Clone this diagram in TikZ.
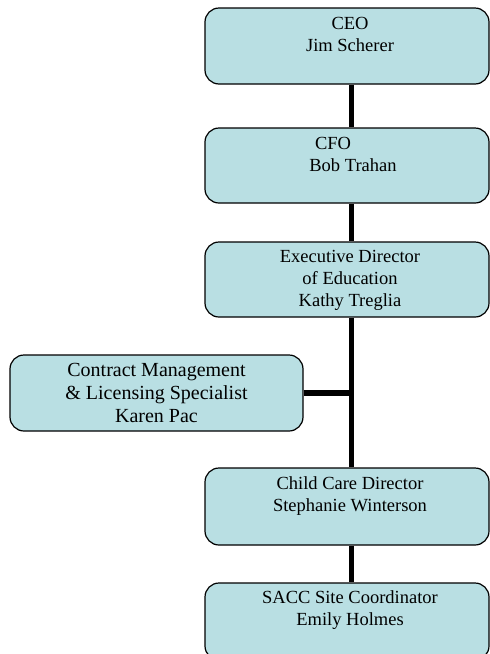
\documentclass[tikz,border=0pt]{standalone}
\usepackage{fontspec}
\setmainfont{Liberation Serif}
\definecolor{boxfill}{RGB}{185,223,227}
\begin{document}
\begin{tikzpicture}[x=1pt,y=-1pt,
  orgbox/.style={draw=black, line width=1.2pt, fill=boxfill, rounded corners=14pt, rectangle, inner sep=0pt, minimum width=284pt},
  txt/.style={anchor=north, inner sep=0pt, align=center, font=\fontsize{18.5}{22}\selectfont},
  conn/.style={line width=5.5pt}]
\useasboundingbox (0,0) rectangle (490,654);
\clip (0,0) rectangle (490,654);
\coordinate (sp) at (351.5,0);
% boxes
\node[orgbox, minimum height=76pt] (ceo) at (347,46) {};
\node[orgbox, minimum height=75pt] (cfo) at (347,165.5) {};
\node[orgbox, minimum height=75pt] (exec) at (347,279.5) {};
\node[orgbox, minimum width=293pt, minimum height=76pt] (contract) at (156.5,393) {};
\node[orgbox, minimum height=77pt] (child) at (347,506.5) {};
\node[orgbox, minimum height=77pt] (sacc) at (347,621.5) {};
% connectors
\draw[conn] (ceo.south -| sp) -- (cfo.north -| sp);
\draw[conn] (cfo.south -| sp) -- (exec.north -| sp);
\draw[conn] (exec.south -| sp) -- (child.north -| sp);
\draw[conn] (child.south -| sp) -- (sacc.north -| sp);
\draw[conn] (contract.east) -- (contract.east -| sp);
% texts
\node[txt] (tceo) at ([xshift=3pt,yshift=-6pt]ceo.north) {\strut CEO\\Jim Scherer};
\node[txt] (tcfo) at ([xshift=3pt,yshift=-6pt]cfo.north) {\strut CFO\hspace*{34pt}\\\hspace*{6pt}Bob Trahan};
\node[txt] (texec) at ([xshift=3pt,yshift=-5pt]exec.north) {\strut Executive Director\\of Education\\Kathy Treglia};
\node[txt, font=\fontsize{20}{23}\selectfont] (tcontract) at ([xshift=0pt,yshift=-5.5pt]contract.north) {\strut Contract Management\\\& Licensing Specialist\\Karen Pac};
\node[txt] (tchild) at ([xshift=3pt,yshift=-6pt]child.north) {\strut Child Care Director\\Stephanie Winterson};
\node[txt] (tsacc) at ([xshift=3pt,yshift=-5pt]sacc.north) {\strut SACC Site Coordinator\\Emily Holmes};
\end{tikzpicture}
\end{document}
